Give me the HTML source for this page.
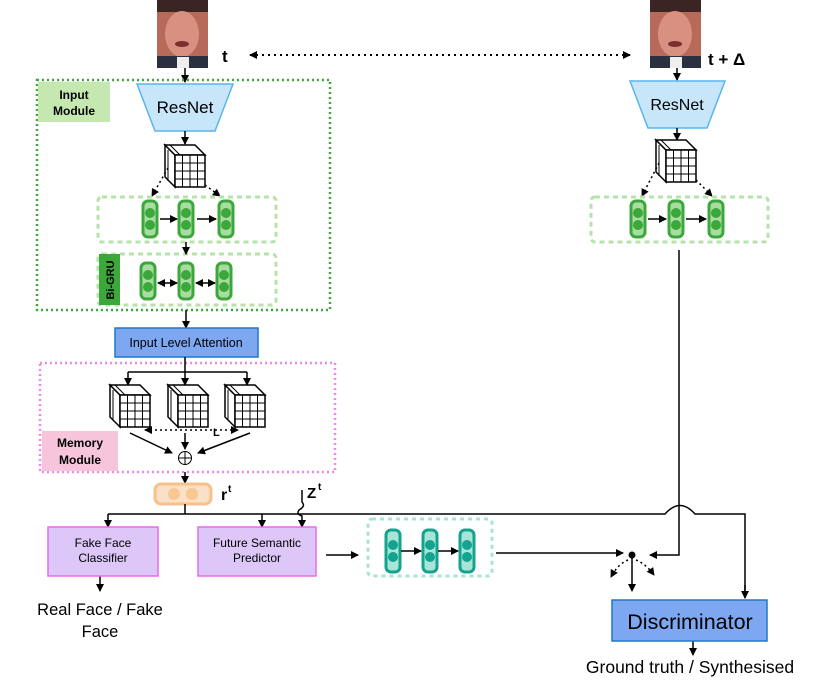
<!DOCTYPE html>
<html><head><meta charset="utf-8"><style>body{margin:0;background:#fff}svg{display:block}text{font-family:"Liberation Sans",sans-serif}</style></head><body>
<svg width="831" height="682" viewBox="0 0 831 682" xmlns="http://www.w3.org/2000/svg">
<defs>
<marker id="a" markerWidth="8" markerHeight="8" refX="7" refY="4" orient="auto" markerUnits="userSpaceOnUse"><path d="M0,0 L8,4 L0,8 z" fill="#000"/></marker>
<marker id="as" markerWidth="8" markerHeight="8" refX="1" refY="4" orient="auto" markerUnits="userSpaceOnUse"><path d="M8,0 L0,4 L8,8 z" fill="#000"/></marker>
<g id="cube" fill="#fff" stroke="#000" stroke-width="1.5">
<polygon points="0,0 10,10 10,42 0,32"/><polygon points="0,0 30,0 40,10 10,10"/>
<rect x="10" y="10" width="30" height="32"/>
<path d="M17.5,10V42M25,10V42M32.5,10V42M10,18H40M10,26H40M10,34H40" stroke-width="1"/>
<path d="M5,0 L15,10 M3,5 V36" stroke-width="1"/>
</g>
<g id="gc"><rect x="-7" y="-18" width="14" height="36" rx="5" fill="#a8dca0" stroke="#3ca83c" stroke-width="3"/><circle cx="0" cy="-6" r="5" fill="#3ca83c"/><circle cx="0" cy="6" r="5" fill="#3ca83c"/></g>
<g id="tc"><rect x="-7" y="-21" width="14" height="42" rx="5" fill="#a8e4d8" stroke="#13a38e" stroke-width="3"/><circle cx="0" cy="-6" r="5" fill="#13a38e"/><circle cx="0" cy="6" r="5" fill="#13a38e"/></g>
<g id="face"><rect x="0" y="0" width="51" height="68" fill="#b86a5a"/><rect x="0" y="0" width="51" height="12" fill="#3a2424"/><ellipse cx="25" cy="34" rx="17" ry="23" fill="#d89080"/><ellipse cx="25" cy="44" rx="7" ry="3" fill="#7a3030"/><rect x="0" y="56" width="51" height="12" fill="#2a3040"/><rect x="20" y="57" width="12" height="11" fill="#eee"/></g>
</defs>
<use href="#face" x="157" y="0"/>
<use href="#face" x="650" y="0"/>
<text x="222" y="62" font-size="17" font-weight="bold">t</text>
<text x="708" y="65" font-size="17" font-weight="bold">t + Δ</text>
<line x1="250" y1="55" x2="630" y2="55" stroke="#000" stroke-width="2" stroke-dasharray="2,4" marker-end="url(#a)" marker-start="url(#as)"/>
<g stroke="#000" stroke-width="1.5" fill="none">
<line x1="185" y1="68" x2="185" y2="82" marker-end="url(#a)"/>
<line x1="677" y1="68" x2="677" y2="80" marker-end="url(#a)"/>
</g>
<rect x="37" y="80" width="293" height="230" fill="none" stroke="#3ca83c" stroke-width="2.5" stroke-dasharray="2,3"/>
<rect x="38" y="82" width="72" height="40" fill="#c5e8b0"/>
<text x="74" y="99" font-size="12" font-weight="bold" text-anchor="middle">Input</text>
<text x="74" y="115" font-size="12" font-weight="bold" text-anchor="middle">Module</text>
<polygon points="137,84 233,84 215,131 155,131" fill="#c8e6fa" stroke="#5ab4f0" stroke-width="1.5"/>
<text x="185" y="113" font-size="17" text-anchor="middle">ResNet</text>
<polygon points="630,81 725,81 707,128 648,128" fill="#c8e6fa" stroke="#5ab4f0" stroke-width="1.5"/>
<text x="677" y="110" font-size="16" text-anchor="middle">ResNet</text>
<g stroke="#000" stroke-width="1.5" fill="none">
<line x1="185" y1="131" x2="185" y2="144" marker-end="url(#a)"/>
<line x1="677" y1="128" x2="677" y2="140" marker-end="url(#a)"/>
</g>
<use href="#cube" x="165" y="145"/>
<use href="#cube" x="656" y="140"/>
<g stroke="#000" stroke-width="1.5" fill="none" stroke-dasharray="2,3">
<line x1="168" y1="168" x2="152" y2="196" marker-end="url(#a)"/>
<line x1="205" y1="185" x2="220" y2="196" marker-end="url(#a)"/>
<line x1="659" y1="163" x2="642" y2="196" marker-end="url(#a)"/>
<line x1="696" y1="180" x2="712" y2="196" marker-end="url(#a)"/>
</g>
<rect x="98" y="197" width="178" height="45" rx="4" fill="none" stroke="#b5e3aa" stroke-width="3" stroke-dasharray="5,4"/>
<rect x="591" y="197" width="177" height="45" rx="4" fill="none" stroke="#b5e3aa" stroke-width="3" stroke-dasharray="5,4"/>
<rect x="98" y="254" width="178" height="51" rx="4" fill="none" stroke="#b5e3aa" stroke-width="3" stroke-dasharray="5,4"/>
<rect x="99" y="254" width="21" height="51" fill="#3ca83c"/>
<text transform="translate(114,280) rotate(-90)" font-size="11" font-weight="bold" text-anchor="middle">Bi-GRU</text>
<use href="#gc" x="150" y="219"/><use href="#gc" x="186" y="219"/><use href="#gc" x="226" y="219"/>
<use href="#gc" x="638" y="219"/><use href="#gc" x="676" y="219"/><use href="#gc" x="716" y="219"/>
<use href="#gc" x="148" y="281"/><use href="#gc" x="186" y="281"/><use href="#gc" x="224" y="281"/>
<g stroke="#000" stroke-width="1.5" fill="none">
<line x1="160" y1="219" x2="177" y2="219" marker-end="url(#a)"/>
<line x1="197" y1="219" x2="216" y2="219" marker-end="url(#a)"/>
<line x1="648" y1="219" x2="666" y2="219" marker-end="url(#a)"/>
<line x1="686" y1="219" x2="706" y2="219" marker-end="url(#a)"/>
<line x1="186" y1="242" x2="186" y2="254" marker-end="url(#a)"/>
<line x1="158" y1="283" x2="177" y2="283" marker-end="url(#a)" marker-start="url(#as)"/>
<line x1="196" y1="283" x2="215" y2="283" marker-end="url(#a)" marker-start="url(#as)"/>
<line x1="186" y1="310" x2="186" y2="328" marker-end="url(#a)"/>
</g>
<rect x="115" y="328" width="143" height="29" fill="#7da7f0" stroke="#1f78c8" stroke-width="1.5"/>
<text x="186" y="347" font-size="12.5" text-anchor="middle">Input Level Attention</text>
<rect x="40" y="363" width="295" height="109" fill="none" stroke="#ee88ee" stroke-width="2.5" stroke-dasharray="2,3"/>
<rect x="42" y="431" width="76" height="40" fill="#f6c5dc"/>
<text x="80" y="447" font-size="12" font-weight="bold" text-anchor="middle">Memory</text>
<text x="80" y="464" font-size="12" font-weight="bold" text-anchor="middle">Module</text>
<g stroke="#000" stroke-width="1.5" fill="none">
<path d="M185,357 V372 M128,372 H247"/>
<line x1="128" y1="372" x2="128" y2="385" marker-end="url(#a)"/>
<line x1="185" y1="372" x2="185" y2="385" marker-end="url(#a)"/>
<line x1="247" y1="372" x2="247" y2="385" marker-end="url(#a)"/>
</g>
<use href="#cube" x="110" y="385"/><use href="#cube" x="168" y="385"/><use href="#cube" x="225" y="385"/>
<line x1="145" y1="430" x2="238" y2="430" stroke="#000" stroke-width="1.5" stroke-dasharray="2,3" marker-end="url(#a)" marker-start="url(#as)"/>
<text x="213" y="436" font-size="11" font-weight="bold">L</text>
<g stroke="#000" stroke-width="1.5" fill="none">
<line x1="130" y1="433" x2="172" y2="453" marker-end="url(#a)"/>
<line x1="185" y1="433" x2="185" y2="449" marker-end="url(#a)"/>
<line x1="250" y1="433" x2="198" y2="453" marker-end="url(#a)"/>
<circle cx="185" cy="458" r="6.5" stroke-width="1"/><path d="M178.5,458H191.5M185,451.5V464.5" stroke-width="1"/>
<line x1="185" y1="472" x2="185" y2="483" marker-end="url(#a)"/>
</g>
<rect x="155" y="484" width="56" height="20" rx="6" fill="#fbe0c8" stroke="#f8c08a" stroke-width="3"/>
<circle cx="174" cy="494" r="6" fill="#f8c890"/><circle cx="192" cy="494" r="6" fill="#f8c890"/>
<text x="221" y="500" font-size="16" font-weight="bold">r</text><text x="228" y="492" font-size="10" font-weight="bold">t</text>
<g stroke="#000" stroke-width="1.5" fill="none">
<path d="M185,504 V514 M108,514 H665 Q680,497 695,514 H745 V598"/>
<line x1="108" y1="514" x2="108" y2="527" marker-end="url(#a)"/>
<line x1="262" y1="514" x2="262" y2="527" marker-end="url(#a)"/>
<path d="M302,490 V502 Q306,506 299,510 Q296,514 302,516 V527" marker-end="url(#a)"/>
<line x1="745" y1="585" x2="745" y2="598" marker-end="url(#a)"/>
<path d="M679,250 V555 H650" marker-end="url(#a)"/>
<line x1="496" y1="553" x2="623" y2="553" marker-end="url(#a)"/>
<line x1="326" y1="555" x2="358" y2="555" marker-end="url(#a)"/>
<line x1="632" y1="555" x2="632" y2="591" marker-end="url(#a)"/>
<path d="M628,560 Q618,564 611,577" stroke-dasharray="2,3" marker-end="url(#a)"/>
<path d="M636,560 Q646,564 654,575" stroke-dasharray="2,3" marker-end="url(#a)"/>
<line x1="100" y1="576" x2="100" y2="591" marker-end="url(#a)"/>
<line x1="693" y1="641" x2="693" y2="655" marker-end="url(#a)"/>
</g>
<circle cx="632" cy="555" r="3.5" fill="#000"/>
<text x="307" y="498" font-size="15" font-weight="bold">Z</text><text x="318" y="490" font-size="10" font-weight="bold">t</text>
<rect x="48" y="527" width="110" height="49" fill="#dcc7f8" stroke="#e86ce8" stroke-width="1.5"/>
<text x="103" y="547" font-size="12" text-anchor="middle">Fake Face</text>
<text x="103" y="562" font-size="12" text-anchor="middle">Classifier</text>
<rect x="198" y="527" width="118" height="49" fill="#dcc7f8" stroke="#e86ce8" stroke-width="1.5"/>
<text x="257" y="547" font-size="12" text-anchor="middle">Future Semantic</text>
<text x="257" y="562" font-size="12" text-anchor="middle">Predictor</text>
<rect x="368" y="519" width="124" height="57" rx="4" fill="none" stroke="#a8e4d8" stroke-width="3" stroke-dasharray="4,4"/>
<use href="#tc" x="393" y="551"/><use href="#tc" x="430" y="551"/><use href="#tc" x="467" y="551"/>
<g stroke="#000" stroke-width="1.5"><line x1="401" y1="551" x2="421" y2="551" marker-end="url(#a)"/><line x1="438" y1="551" x2="458" y2="551" marker-end="url(#a)"/></g>
<text x="100" y="615" font-size="16.5" text-anchor="middle">Real Face / Fake</text>
<text x="100" y="637" font-size="16.5" text-anchor="middle">Face</text>
<rect x="612" y="600" width="155" height="41" fill="#7da7f0" stroke="#1f78c8" stroke-width="1.5"/>
<text x="690" y="629" font-size="21.5" text-anchor="middle">Discriminator</text>
<text x="690" y="673" font-size="17.5" text-anchor="middle">Ground truth / Synthesised</text>
</svg>
</body></html>
